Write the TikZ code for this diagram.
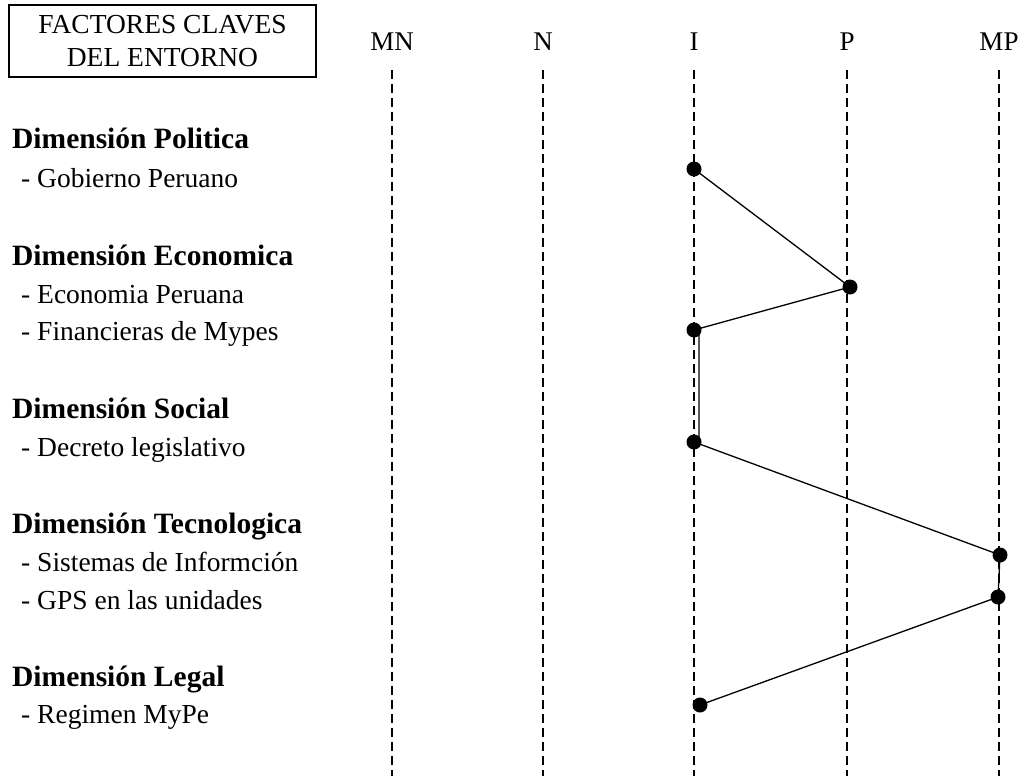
\documentclass[tikz,border=0pt]{standalone}
\usepackage{fontspec}
\setmainfont{Liberation Serif}
\begin{document}
\begin{tikzpicture}[x=1pt,y=-1pt,
  lbl/.style={anchor=base west,inner sep=0pt,font=\fontsize{27.5}{32}\selectfont},
  dim/.style={anchor=base west,inner sep=0pt,font=\fontsize{29.5}{34}\selectfont\bfseries},
  hdr/.style={anchor=base,inner sep=0pt,font=\fontsize{27}{32}\selectfont},
  guide/.style={line width=1.3pt,dash pattern=on 9pt off 5pt},
  dot/.style={circle,fill=black,inner sep=0pt,minimum size=15pt},
  link/.style={line width=1.3pt}]
\useasboundingbox (0,0) rectangle (1028,776);
% title box
\node[draw,line width=1.6pt,minimum width=307pt,minimum height=72pt,inner sep=0pt,align=center,
      font=\fontsize{27.5}{33}\selectfont] (title) at (162.5,41) {FACTORES CLAVES\\DEL ENTORNO};
% column headers and dashed guides
\foreach \n/\x in {MN/392,N/543,I/694,P/847,MP/999}{
  \node[hdr] (h\n) at (\x,51) {\n};
  \coordinate (t\n) at (\x,70);
  \coordinate (b\n) at (\x,776);
  \draw[guide] (t\n) -- (b\n);
}
% labels
\node[dim] (l1) at (12,148) {Dimensión Politica};
\node[lbl] (l2) at (21,187) {- Gobierno Peruano};
\node[dim] (l3) at (12,265) {Dimensión Economica};
\node[lbl] (l4) at (21,303) {- Economia Peruana};
\node[lbl] (l5) at (21,340) {- Financieras de Mypes};
\node[dim] (l6) at (12,418) {Dimensión Social};
\node[lbl] (l7) at (21,456) {- Decreto legislativo};
\node[dim] (l8) at (12,533) {Dimensión Tecnologica};
\node[lbl] (l9) at (21,571) {- Sistemas de Informción};
\node[lbl] (l10) at (21,609) {- GPS en las unidades};
\node[dim] (l11) at (12,686) {Dimensión Legal};
\node[lbl] (l12) at (21,723) {- Regimen MyPe};
% dots
\node[dot] (d1) at (694,169) {};
\node[dot] (d2) at (850,287) {};
\node[dot] (d3) at (694,330) {};
\node[dot] (d4) at (694,442) {};
\node[dot] (d5) at (1000,555) {};
\node[dot] (d6) at (998,597) {};
\node[dot] (d7) at (700,705) {};
\draw[link] (d1.center) -- (d2.center) -- (d3.center)
  -- ([xshift=5pt]d3.center) -- ([xshift=5pt]d4.center) -- (d4.center)
  -- (d5.center) -- (d6.center) -- (d7.center);
\end{tikzpicture}
\end{document}
